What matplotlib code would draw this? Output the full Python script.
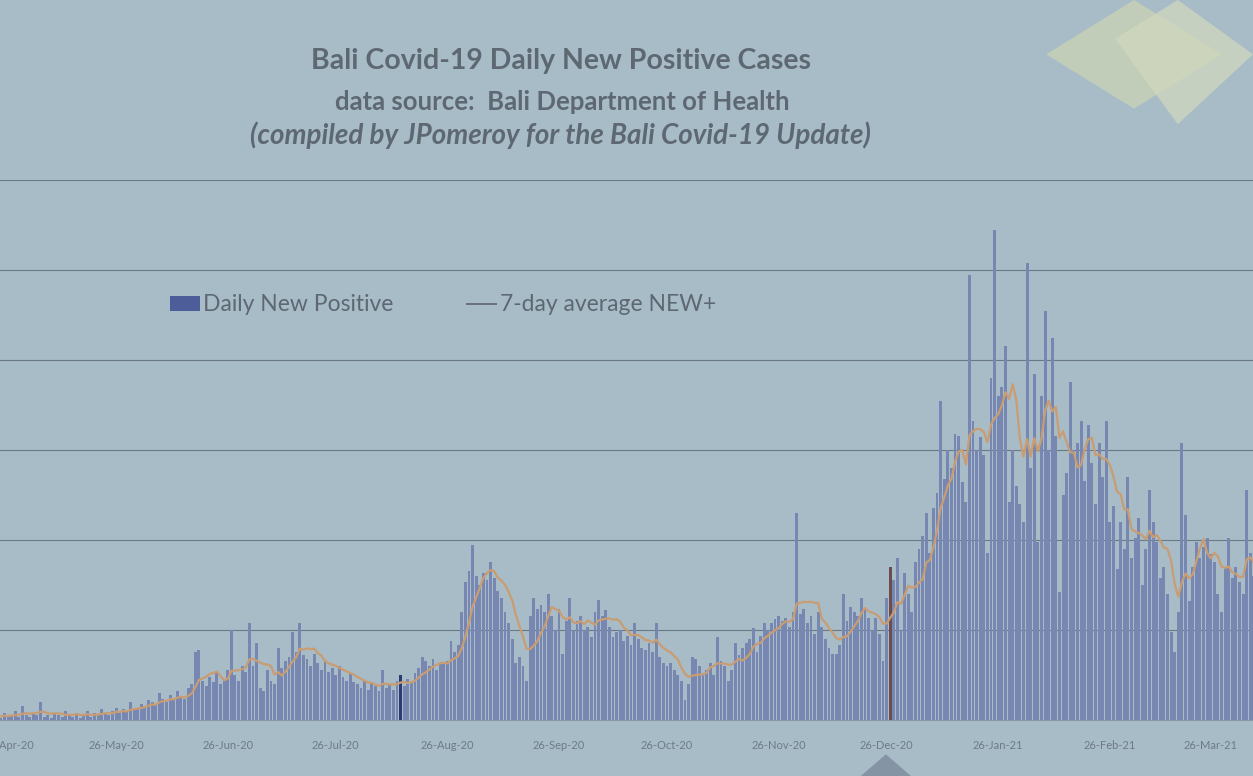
import pandas as pd
import numpy as np
import matplotlib.pyplot as plt
import matplotlib.dates as mdates
from matplotlib.patches import Polygon
from matplotlib.lines import Line2D

# Daily new positive cases (one list per month)
month_starts = ['2020-04-22', '2020-05-01', '2020-06-01', '2020-07-01', '2020-08-01',
                '2020-09-01', '2020-10-01', '2020-11-01', '2020-12-01', '2021-01-01',
                '2021-02-01', '2021-03-01', '2021-04-01']
apr20 = [2, 3, 1, 4, 2, 3, 5, 2, 8]
may20 = [3, 2, 4, 3, 10, 2, 3, 1, 4, 3, 2, 5, 3, 2, 4, 1, 3, 5, 2, 4,
         3, 6, 4, 3, 5, 7, 4, 6, 5, 10, 6]
jun20 = [7, 9, 8, 11, 10, 9, 15, 12, 10, 14, 11, 16, 13, 12, 18, 20, 38, 39, 22, 19,
         24, 21, 26, 20, 23, 28, 50, 25, 22, 30]
jul20 = [27, 54, 30, 43, 18, 16, 28, 22, 20, 40, 29, 33, 35, 49, 38, 54, 36, 34, 30, 37,
         32, 28, 33, 27, 29, 25, 30, 24, 22, 26, 21]
aug20 = [20, 18, 22, 17, 21, 19, 16, 28, 18, 20, 17, 22, 25, 19, 23, 21, 26, 29, 35, 33,
         30, 34, 28, 32, 31, 33, 44, 38, 42, 60, 77]
sep20 = [83, 97, 80, 75, 82, 78, 88, 79, 72, 68, 60, 54, 45, 32, 35, 30, 22, 58, 68, 62,
         64, 60, 70, 58, 50, 62, 37, 55, 68, 50]
oct20 = [55, 58, 50, 52, 46, 60, 67, 58, 61, 52, 46, 49, 50, 44, 47, 42, 54, 45, 40, 39,
         43, 38, 54, 35, 32, 30, 32, 28, 25, 22, 11]
nov20 = [20, 35, 34, 30, 26, 28, 32, 25, 46, 33, 30, 22, 28, 43, 36, 40, 43, 45, 51, 38,
         47, 54, 50, 54, 56, 58, 55, 57, 52, 60]
dec20 = [115, 59, 62, 54, 58, 48, 60, 52, 45, 40, 37, 37, 42, 70, 55, 63, 60, 58, 68, 62,
         57, 50, 57, 48, 33, 68, 85, 78, 90, 50, 82]
jan21 = [70, 60, 88, 95, 102, 115, 93, 118, 126, 177, 134, 150, 140, 159, 158, 132, 121, 247, 166, 150,
         157, 147, 93, 190, 272, 180, 185, 208, 121, 150, 130]
feb21 = [120, 110, 254, 140, 192, 99, 180, 227, 150, 212, 158, 71, 125, 137, 188, 150, 154, 166, 133, 164,
         143, 120, 154, 135, 166, 110, 119, 84]
mar21 = [110, 95, 135, 90, 101, 112, 75, 95, 128, 110, 99, 79, 85, 70, 49, 38, 60, 154, 114, 66,
         85, 99, 90, 96, 101, 92, 88, 70, 60, 85, 101]
apr21 = [79, 85, 77, 70, 128, 93, 80]

months = [apr20, may20, jun20, jul20, aug20, sep20, oct20, nov20, dec20, jan21, feb21, mar21, apr21]
highlight_days = {'2020-08-13': '#2c3a73', '2020-12-27': '#6e4b4e'}

parts = []
for start, vals in zip(month_starts, months):
    parts.append(pd.Series(vals, index=pd.date_range(start, periods=len(vals), freq='D')))
daily = pd.concat(parts)
avg7 = daily.rolling(7, min_periods=1).mean()

bg = '#a8bcc7'
bar_col = '#7886b2'
line_col = '#c99c72'
txt_col = '#5d6872'

plt.rcParams['font.family'] = ['Lato', 'DejaVu Sans']

fig = plt.figure(figsize=(12.53, 7.76), dpi=100, facecolor=bg)
ax = fig.add_axes([0.0, 0.072, 1.0, 0.696])
ax.set_facecolor(bg)

colors = [highlight_days.get(d.strftime('%Y-%m-%d'), bar_col) for d in daily.index]
bars = ax.bar(daily.index, daily.values, width=0.8, color=colors, linewidth=0,
              label='Daily New Positive', zorder=2)
line, = ax.plot(avg7.index, avg7.values, color=line_col, lw=1.6,
                label='7-day average NEW+', zorder=3)

ax.set_xlim(pd.Timestamp('2020-04-23 18:00'), pd.Timestamp('2021-04-06 18:00'))
ax.set_ylim(0, 300)
ax.set_yticks(np.arange(50, 301, 50))
ax.yaxis.grid(True, color='#6a7984', lw=0.8, zorder=1)
ax.tick_params(axis='y', left=False, labelleft=False)

ax.xaxis.set_major_locator(mdates.MonthLocator(bymonthday=26))
ax.xaxis.set_major_formatter(mdates.DateFormatter('%d-%b-%y'))
ax.tick_params(axis='x', length=0, labelsize=8, labelcolor='#6c7a86', pad=14)
for s in ['top', 'left', 'right']:
    ax.spines[s].set_visible(False)
ax.spines['bottom'].set_color('#8a98a3')

# title block
fig.text(0.448, 0.922, 'Bali Covid-19 Daily New Positive Cases', ha='center', va='center',
         fontsize=20.5, fontweight='bold', color=txt_col)
fig.text(0.449, 0.868, 'data source:  Bali Department of Health', ha='center', va='center',
         fontsize=18.5, fontweight='bold', color=txt_col)
fig.text(0.447, 0.826, '(compiled by JPomeroy for the Bali Covid-19 Update)', ha='center',
         va='center', fontsize=20, fontweight='bold', fontstyle='italic', color=txt_col)

# legend
leg_line = Line2D([0], [0], color='#66707a', lw=1.4)
leg = fig.legend([bars, leg_line], ['Daily New Positive', '7-day average NEW+'],
                 loc='center left', bbox_to_anchor=(0.119, 0.607), ncol=2, frameon=False,
                 fontsize=16.5, handlelength=1.3, handleheight=0.6, handletextpad=0.15,
                 columnspacing=3.2, labelcolor=txt_col)
leg.legend_handles[0].set_color('#4d5d99')

# slide decoration at the top right and the pointer at the bottom
fig.patches.append(Polygon([[0.835, 0.93], [0.905, 1.0], [0.975, 0.93], [0.905, 0.86]],
                           closed=True, transform=fig.transFigure,
                           facecolor='#c8d2b6', edgecolor='none', alpha=0.8))
fig.patches.append(Polygon([[0.89, 0.95], [0.94, 1.0], [1.0, 0.93], [0.94, 0.84]],
                           closed=True, transform=fig.transFigure,
                           facecolor='#d2d9be', edgecolor='none', alpha=0.7))
fig.patches.append(Polygon([[0.687, 0.0], [0.707, 0.028], [0.727, 0.0]],
                           closed=True, transform=fig.transFigure,
                           facecolor='#8494a4', edgecolor='none'))

plt.savefig('out.png', dpi=100, facecolor=bg)
